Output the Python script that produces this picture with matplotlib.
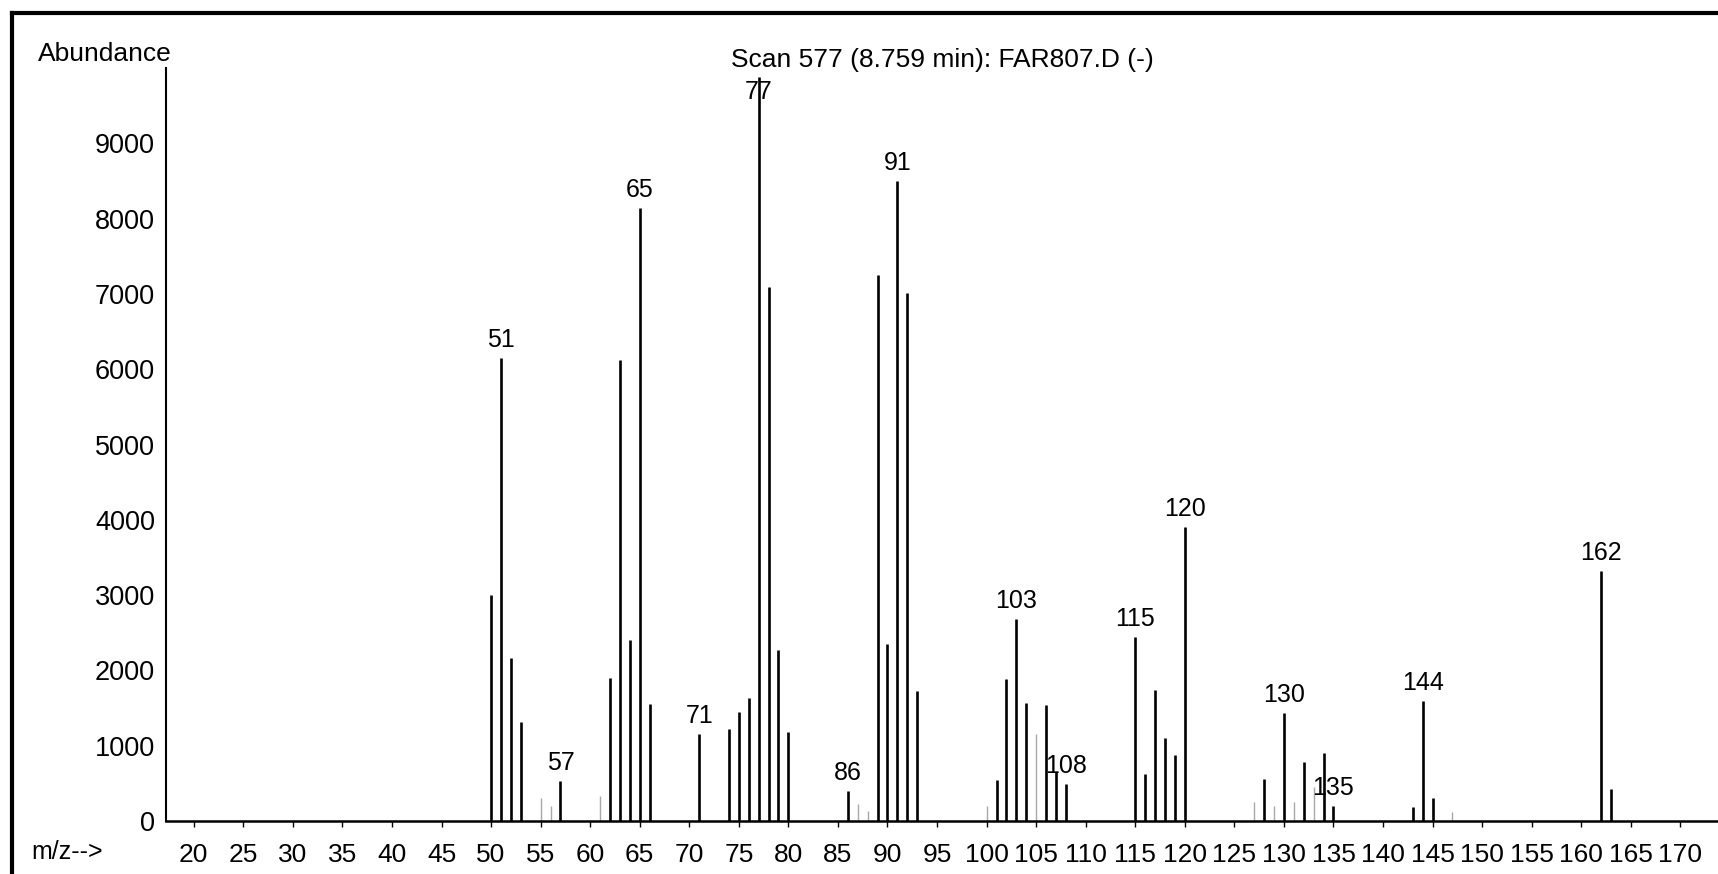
import matplotlib
matplotlib.use("Agg")
import matplotlib.pyplot as plt
from matplotlib.lines import Line2D

plt.rcParams['font.family'] = ['Liberation Sans', 'DejaVu Sans']

# picos del espectro (m/z, abundancia)
mz = [50, 51, 52, 53, 57, 62, 63, 64, 65, 66, 71, 74, 75, 76, 77, 78, 79, 80,
      86, 89, 90, 91, 92, 93, 101, 102, 103, 104, 106, 107, 108,
      115, 116, 117, 118, 119, 120, 128, 130, 132, 134, 135,
      143, 144, 145, 162, 163]
abundance = [3000, 6150, 2160, 1320, 530, 1900, 6120, 2400, 8140, 1560, 1160, 1220, 1450, 1630, 9880, 7090, 2270, 1180,
             400, 7250, 2350, 8500, 7010, 1730, 550, 1890, 2680, 1570, 1540, 650, 490,
             2450, 620, 1740, 1100, 880, 3900, 560, 1430, 780, 900, 200,
             190, 1600, 300, 3320, 420]

# picos debiles (apenas visibles en el escaneo)
faint_mz = [55, 56, 61, 87, 88, 100, 105, 127, 129, 131, 133, 147]
faint_abundance = [300, 200, 330, 220, 130, 200, 1150, 250, 200, 250, 450, 120]

labeled = [51, 57, 65, 71, 77, 86, 91, 103, 108, 115, 120, 130, 135, 144, 162]
label_offset = {77: -15}

xticks = list(range(20, 171, 5))
yticks = list(range(0, 9001, 1000))

W, H = 1718, 874
fig = plt.figure(figsize=(W / 100, H / 100), dpi=100)
ax = fig.add_axes([166 / W, 1 - 821 / H, 1 - 166 / W, (821 - 68) / H])

ax.vlines(faint_mz, 0, faint_abundance, color='#a8a8a8', linewidth=1.0)
ax.vlines(mz, 0, abundance, color='black', linewidth=1.9)

for m in labeled:
    a = abundance[mz.index(m)]
    ax.annotate(str(m), (m, a), xytext=(0, label_offset.get(m, 18)),
                textcoords='offset pixels', ha='center', va='center', fontsize=18)

ax.set_xlim(17.2, 173.8)
ax.set_ylim(0, 10000)
ax.set_xticks(xticks)
ax.set_yticks(yticks)
ax.tick_params(axis='x', length=4, width=1, pad=12, labelsize=19)
ax.tick_params(axis='y', length=0, pad=8, labelsize=19.5)

for s in ['top', 'right']:
    ax.spines[s].set_visible(False)
ax.spines['left'].set_linewidth(1.5)
ax.spines['bottom'].set_linewidth(1.8)

fig.text(731 / W, 1 - 60 / H, 'Scan 577 (8.759 min): FAR807.D (-)', ha='left', va='center', fontsize=19)
fig.text(38 / W, 1 - 54 / H, 'Abundance', ha='left', va='center', fontsize=19)
fig.text(31 / W, 1 - 852 / H, 'm/z-->', ha='left', va='center', fontsize=18)

# marco del escaneo
fig.add_artist(Line2D([12 / W, 1], [1 - 13 / H, 1 - 13 / H], color='black', linewidth=3))
fig.add_artist(Line2D([12 / W, 12 / W], [0, 1 - 13 / H], color='black', linewidth=3))

fig.savefig('out.png', dpi=100)
